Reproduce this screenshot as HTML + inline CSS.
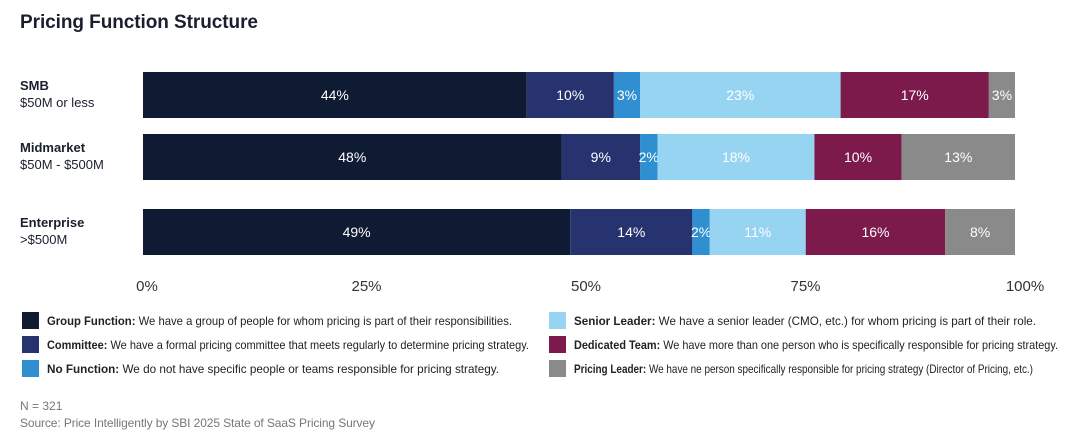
<!DOCTYPE html>
<html><head><meta charset="utf-8"><style>
html,body{margin:0;padding:0;background:#fff;}
svg{display:block;font-family:"Liberation Sans",sans-serif;}
</style></head><body>
<svg id="chart" width="1080" height="437" viewBox="0 0 1080 437">
<text x="20" y="28" font-size="19" font-weight="bold" fill="#1a1f2e" textLength="238">Pricing Function Structure</text>
<g id="bars"></g>
<g id="axis"></g>
<g id="legend"></g>
<text x="20" y="410" font-size="12" fill="#777">N = 321</text>
<text x="20" y="427" font-size="12" fill="#777" textLength="355">Source: Price Intelligently by SBI 2025 State of SaaS Pricing Survey</text>
</svg>
<script>
const categories = ["SMB","Midmarket","Enterprise"];
const subLabels = ["$50M or less","$50M - $500M",">$500M"];
const groupFunction = [44,48,49];
const committee = [10,9,14];
const noFunction = [3,2,2];
const seniorLeader = [23,18,11];
const dedicatedTeam = [17,10,16];
const pricingLeader = [3,13,8];
const tickValues = [0,25,50,75,100];
const tickLabels = ["0%","25%","50%","75%","100%"];
const seriesNames = ["Group Function","Committee","No Function","Senior Leader","Dedicated Team","Pricing Leader"];
const seriesDesc = [
 "We have a group of people for whom pricing is part of their responsibilities.",
 "We have a formal pricing committee that meets regularly to determine pricing strategy.",
 "We do not have specific people or teams responsible for pricing strategy.",
 "We have a senior leader (CMO, etc.) for whom pricing is part of their role.",
 "We have more than one person who is specifically responsible for pricing strategy.",
 "We have ne person specifically responsible for pricing strategy (Director of Pricing, etc.)"];
const series = [groupFunction,committee,noFunction,seniorLeader,dedicatedTeam,pricingLeader];
const colors = ["#0f1a33","#27336e","#2f8fd0","#97d4f1","#7b1a4b","#8a8a8a"];
const NS="http://www.w3.org/2000/svg";
const x0=143,x1=1015;
const xs=v=>x0+(x1-x0)*v/100;
const rowY=[72,134,209], barH=46;
function mk(tag,attrs,parent,text){const e=document.createElementNS(NS,tag);for(const k in attrs)e.setAttribute(k,attrs[k]);if(text!==undefined)e.textContent=text;parent.appendChild(e);return e;}
const bars=document.getElementById('bars');
categories.forEach((c,i)=>{
 const y=rowY[i];
 const t=mk('text',{x:20,y:y+18,'font-size':13,'font-weight':'bold',fill:'#1a1f2e'},bars,c);
 
 
 const s=mk('text',{x:20,y:y+35,'font-size':13,fill:'#1a1f2e'},bars,subLabels[i]);
 
 
 let cum=0;
 series.forEach((arr,j)=>{
  const v=arr[i];
  const r=mk('rect',{x:xs(cum),y:y,width:xs(cum+v)-xs(cum),height:barH,fill:colors[j]},bars);
  
  
  const lt=mk('text',{x:(xs(cum)+xs(cum+v))/2,y:y+barH/2+5,'font-size':14,fill:'#fff','text-anchor':'middle'},bars,v+'%');
  
  
  cum+=v;
 });
});
const axis=document.getElementById('axis');
tickValues.forEach((v,i)=>{
 const t=mk('text',{x:xs(v)+4+ (v/100)*6,y:291,'font-size':15,fill:'#333','text-anchor':'middle'},axis,tickLabels[i]);
 
 
});
const legend=document.getElementById('legend');
const lw=[465,482,452,462,484,459];
seriesNames.forEach((n,j)=>{
 const col=Math.floor(j/3), row=j%3;
 const sx=col?549:22, y=312+row*24;
 const r=mk('rect',{x:sx,y:y,width:17,height:17,fill:colors[j]},legend);
 
 
 const t=mk('text',{x:sx+25,y:y+13,'font-size':12,fill:'#222',textLength:lw[j],lengthAdjust:'spacingAndGlyphs'},legend);
 
 
 mk('tspan',{'font-weight':'bold'},t,n+': ');
 mk('tspan',{},t,seriesDesc[j]);
});
</script>
</body></html>
